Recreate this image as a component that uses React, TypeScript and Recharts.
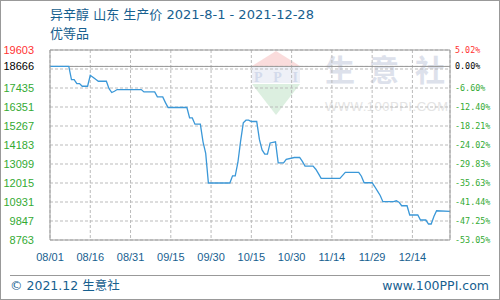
import React from "react";
import {
  LineChart,
  Line,
  XAxis,
  YAxis,
  CartesianGrid,
  ReferenceLine,
} from "recharts";

// ---- data ----
const dates = [
  "08-01", "08-08", "08-09", "08-10", "08-11", "08-12", "08-13", "08-15", "08-16", "08-17",
  "08-18", "08-19", "08-22", "08-23", "08-24", "08-25", "08-26", "09-04", "09-05", "09-09",
  "09-10", "09-12", "09-13", "09-14", "09-21", "09-22", "09-23", "09-24", "09-26", "09-27",
  "09-28", "09-29", "10-07", "10-08", "10-09", "10-10", "10-11", "10-12", "10-13", "10-14",
  "10-15", "10-17", "10-18", "10-19", "10-20", "10-21", "10-22", "10-24", "10-25", "10-27",
  "10-28", "10-31", "11-02", "11-03", "11-04", "11-07", "11-08", "11-09", "11-10", "11-17",
  "11-18", "11-19", "11-24", "11-25", "11-26", "11-29", "11-30", "12-01", "12-02", "12-03",
  "12-07", "12-08", "12-09", "12-10", "12-12", "12-13", "12-16", "12-17", "12-19", "12-20",
  "12-21", "12-22", "12-23", "12-28",
];
const prices = [
  18666, 18666, 17917, 17917, 17689, 17689, 17535, 17535, 18162, 18050,
  17930, 17820, 17820, 17400, 17177, 17250, 17347, 17347, 17211, 17211,
  16926, 16926, 16600, 16322, 16322, 15730, 15730, 15371, 15371, 14363,
  13700, 12015, 12015, 12427, 12427, 13200, 14400, 15450, 15599, 15599,
  15525, 15525, 14500, 13900, 13662, 13662, 14300, 14363, 13167, 13167,
  13360, 13470, 13470, 13250, 12978, 12978, 12800, 12550, 12280, 12280,
  12450, 12622, 12622, 12400, 12030, 12030, 11800, 11550, 11300, 10949,
  10949, 11000, 10920, 10717, 10717, 10188, 10188, 9903, 9903, 9676,
  9676, 10100, 10433, 10400,
];
const xTickDates = ["08-01", "08-16", "08-31", "09-15", "09-30", "10-15", "10-30", "11-14", "11-29", "12-14"];
const endDate = "12-28";
const yTicks = [19603, 18666, 18519, 17435, 16351, 15267, 14183, 13099, 12015, 10931, 9847, 8763];
const rightLabels = ["5.02%", "0.00%", "", "-6.60%", "-12.40%", "-18.21%", "-24.02%", "-29.83%", "-35.63%", "-41.44%", "-47.25%", "-53.05%"];
const hiddenTick = 18519;
const baseValue = 18666;
const topValue = 19603;
const bottomValue = 8763;

const titleLine1 = "异辛醇 山东 生产价 2021-8-1 - 2021-12-28";
const titleLine2 = "优等品";
const footerLeft = "© 2021.12 生意社";
const footerRight = "www.100PPI.com";

// ---- helpers ----
const YEAR = 2021;
const dayOf = (md: string) => {
  const [m, d] = md.split("-").map(Number);
  return (Date.UTC(YEAR, m - 1, d) - Date.UTC(YEAR, 7, 1)) / 86400000;
};
const fmtDay = (day: number) => {
  const t = new Date(Date.UTC(YEAR, 7, 1) + day * 86400000);
  const mm = String(t.getUTCMonth() + 1).padStart(2, "0");
  const dd = String(t.getUTCDate()).padStart(2, "0");
  return `${mm}/${dd}`;
};

const data = dates.map((d, i) => ({ day: dayOf(d), price: prices[i], ref: prices[i] }));
const xTicks = xTickDates.map(dayOf);
const xMax = dayOf(endDate);

const BLUE = "#17608f";
const RED = "#ff3333";
const GREEN = "#33aa33";
const GRID = "#bbbbbb";
const AXIS = "#999999";
const colorFor = (v: number) => (v > baseValue ? RED : v === baseValue ? "#000000" : GREEN);

const LeftTick = (props: any) => {
  const { x, y, payload } = props;
  const v = payload.value;
  if (v === hiddenTick) return <g />;
  return (
    <text x={x - 16} y={y} dy={4} textAnchor="end" fill={colorFor(v)} fontSize={11} fontFamily="'Liberation Sans', Arial, sans-serif">
      {v}
    </text>
  );
};

const RightTick = (props: any) => {
  const { x, y, payload } = props;
  const v = payload.value;
  const idx = yTicks.indexOf(v);
  const label = idx >= 0 ? rightLabels[idx] : "";
  if (!label) return <g />;
  return (
    <text x={x + 5} y={y} dy={3} textAnchor="start" fill={colorFor(v)} fontSize={8.4} fontFamily="'DejaVu Sans Mono', monospace">
      {label}
    </text>
  );
};

const Watermark = () => (
  <svg width={500} height={300} style={{ position: "absolute", left: 0, top: 0 }}>
    <polygon points="276,51 252,66 300,66" fill="#fadcdc" />
    <rect x={252} y={67} width={48} height={16} fill="#eef0f7" />
    <text x={276} y={82} textAnchor="middle" fontSize={14} fontWeight="bold" fontFamily="'Liberation Serif', serif" fill="#d3daeb" textLength={44}>
      PPI
    </text>
    <polygon points="252,84 300,84 276,115" fill="#dcefe0" />
    <text x={340} y={81} textAnchor="middle" fontSize={30} fontWeight="bold" fontFamily="'Noto Sans CJK SC', sans-serif" fill="#dde1eb">生</text>
    <text x={384} y={81} textAnchor="middle" fontSize={30} fontWeight="bold" fontFamily="'Noto Sans CJK SC', sans-serif" fill="#dde1eb">意</text>
    <text x={430} y={81} textAnchor="middle" fontSize={30} fontWeight="bold" fontFamily="'Noto Sans CJK SC', sans-serif" fill="#dde1eb">社</text>
    <text x={325} y={111} fontSize={13} fontFamily="'Liberation Sans', Arial, sans-serif" fill="#e4e4e4" textLength={123}>
      WWW.100PPI.COM
    </text>
  </svg>
);

export default function App() {
  return (
    <div style={{ position: "absolute", left: 0, top: 0, width: 500, height: 300, background: "#ffffff" }}>
      <Watermark />
      <LineChart width={500} height={300} data={data} margin={{ top: 50, right: 0, bottom: 30, left: 0 }}>
        <CartesianGrid stroke={GRID} strokeDasharray="3 2" />
        <XAxis
          dataKey="day"
          type="number"
          domain={[0, xMax]}
          allowDataOverflow
          ticks={xTicks}
          interval={0}
          tickFormatter={fmtDay}
          tickLine={false}
          tickSize={0}
          tickMargin={13}
          height={30}
          stroke={AXIS}
          tick={{ fill: BLUE, fontSize: 11, fontFamily: "'Liberation Sans', Arial, sans-serif" }}
        />
        <YAxis
          domain={[bottomValue, topValue]}
          allowDataOverflow
          ticks={yTicks}
          interval={0}
          width={50}
          tickLine={false}
          tickSize={0}
          tickMargin={0}
          stroke={AXIS}
          tick={<LeftTick />}
        />
        <YAxis
          yAxisId="right"
          orientation="right"
          domain={[bottomValue, topValue]}
          allowDataOverflow
          ticks={yTicks}
          interval={0}
          width={50}
          tickLine={false}
          tickSize={0}
          tickMargin={0}
          stroke={AXIS}
          tick={<RightTick />}
        />
        <ReferenceLine y={topValue} stroke={AXIS} ifOverflow="extendDomain" />
        <ReferenceLine y={baseValue} stroke={AXIS} />
        <Line
          type="linear"
          dataKey="price"
          stroke="#3b98d8"
          strokeWidth={1.3}
          dot={false}
          activeDot={false}
          isAnimationActive={false}
        />
        <Line
          yAxisId="right"
          type="linear"
          dataKey="ref"
          stroke="none"
          strokeWidth={0}
          dot={false}
          activeDot={false}
          legendType="none"
          isAnimationActive={false}
        />
      </LineChart>
      <div style={{ position: "absolute", left: 50, top: 7, fontSize: 13, lineHeight: "16px", color: BLUE, fontFamily: "'DejaVu Sans', 'Noto Sans CJK SC', sans-serif", whiteSpace: "nowrap" }}>
        {titleLine1}
      </div>
      <div style={{ position: "absolute", left: 50, top: 25, fontSize: 13, lineHeight: "16px", color: BLUE, fontFamily: "'Noto Sans CJK SC', sans-serif", whiteSpace: "nowrap" }}>
        {titleLine2}
      </div>
      <div style={{ position: "absolute", left: 10, top: 275, width: 480, height: 0, borderTop: "1px solid #999999" }} />
      <div style={{ position: "absolute", left: 10, top: 278, fontSize: 12.5, lineHeight: "16px", color: BLUE, fontFamily: "'DejaVu Sans', 'Noto Sans CJK SC', sans-serif", whiteSpace: "nowrap" }}>
        {footerLeft}
      </div>
      <div style={{ position: "absolute", right: 11, top: 278, fontSize: 12.5, lineHeight: "16px", color: BLUE, fontFamily: "'DejaVu Sans', sans-serif", whiteSpace: "nowrap" }}>
        {footerRight}
      </div>
      <div style={{ position: "absolute", left: 0, top: 0, width: 500, height: 300, boxSizing: "border-box", border: "1px solid #999999", pointerEvents: "none" }} />
    </div>
  );
}
